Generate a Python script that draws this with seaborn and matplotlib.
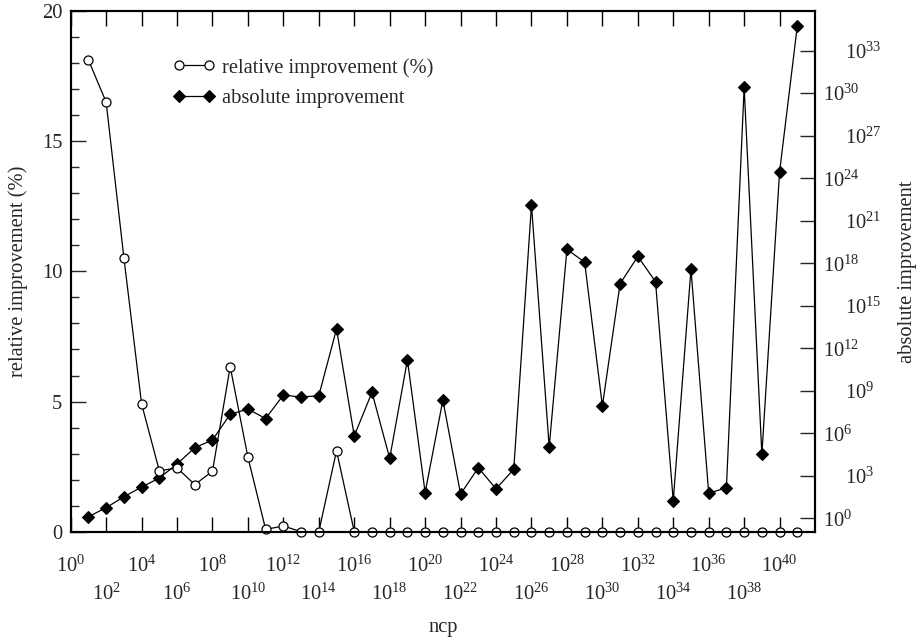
import numpy as np
import pandas as pd
import matplotlib
matplotlib.use('Agg')
import matplotlib.pyplot as plt
import matplotlib.ticker as mticker
import seaborn as sns

# ncp values (one point per decade)
ncp = [1e1, 1e2, 1e3, 1e4, 1e5, 1e6, 1e7, 1e8, 1e9, 1e10,
       1e11, 1e12, 1e13, 1e14, 1e15, 1e16, 1e17, 1e18, 1e19, 1e20,
       1e21, 1e22, 1e23, 1e24, 1e25, 1e26, 1e27, 1e28, 1e29, 1e30,
       1e31, 1e32, 1e33, 1e34, 1e35, 1e36, 1e37, 1e38, 1e39, 1e40, 1e41]

# relative improvement in %, left axis
rel_impr = [18.12, 16.50, 10.53, 4.91, 2.34, 2.45, 1.81, 2.32, 6.34, 2.86,
            0.09, 0.22, 0.0, 0.0, 3.11, 0.0, 0.0, 0.0, 0.0, 0.0,
            0.0, 0.0, 0.0, 0.0, 0.0, 0.0, 0.0, 0.0, 0.0, 0.0,
            0.0, 0.0, 0.0, 0.0, 0.0, 0.0, 0.0, 0.0, 0.0, 0.0, 0.0]

# absolute improvement, right (log) axis
abs_impr = [1.3, 5.6, 33, 160, 690, 6.8e3, 9.5e4, 3.4e5, 2.2e7, 5.1e7,
            1.1e7, 5.0e8, 3.6e8, 4.5e8, 2.3e13, 6.5e5, 7.8e8, 1.7e4, 1.5e11, 65,
            2.2e8, 51, 3.7e3, 120, 2.9e3, 1.3e22, 1.1e5, 9.5e18, 1.2e18, 8.5e7,
            3.6e16, 3.0e18, 5.0e16, 17, 3.9e17, 58, 145, 2.6e30, 3.3e4, 2.8e24, 5.5e34]

df = pd.DataFrame({'ncp': ncp, 'rel': rel_impr, 'abs': abs_impr})

sns.set_style('white')
plt.rcParams['font.family'] = ['Liberation Serif', 'DejaVu Serif']
plt.rcParams['mathtext.fontset'] = 'custom'
plt.rcParams['mathtext.rm'] = 'Liberation Serif'
plt.rcParams['mathtext.it'] = 'Liberation Serif:italic'
plt.rcParams['mathtext.bf'] = 'Liberation Serif:bold'

FS = 14.8

fig = plt.figure(figsize=(9.17, 6.4), dpi=100)
ax = fig.add_axes([0.0771, 0.1692, 0.8117, 0.8136])
ax.set_xscale('log')
ax2 = ax.twinx()

sns.lineplot(data=df, x='ncp', y='abs', ax=ax2, color='black', linewidth=0.9,
             marker='D', markersize=5.8, markerfacecolor='black',
             markeredgecolor='black', markeredgewidth=0.8,
             label='absolute improvement', clip_on=False)
sns.lineplot(data=df, x='ncp', y='rel', ax=ax, color='black', linewidth=0.9,
             marker='o', markersize=6.5, markerfacecolor='white',
             markeredgecolor='black', markeredgewidth=0.9,
             label='relative improvement (%)', clip_on=False)

ax.set_zorder(ax2.get_zorder() + 1)
ax.patch.set_visible(False)
ax2.patch.set_visible(False)

ax.set_xlim(1e0, 1e42)
ax.set_ylim(0, 20)
ax2.set_yscale('log')
ax2.set_ylim(10 ** -0.946, 10 ** 35.8)

def pow_fmt(v, pos):
    return r'$\mathregular{10^{%d}}$' % int(round(np.log10(v)))

# x ticks: labels alternate between two rows
ax.xaxis.set_major_locator(mticker.FixedLocator([10.0 ** k for k in range(0, 41, 4)]))
ax.xaxis.set_minor_locator(mticker.FixedLocator([10.0 ** k for k in range(2, 40, 4)]))
ax.xaxis.set_major_formatter(mticker.FuncFormatter(pow_fmt))
ax.xaxis.set_minor_formatter(mticker.FuncFormatter(pow_fmt))
ax.tick_params(axis='x', which='both', direction='in', top=True, bottom=True,
               length=10.5, width=1, labelsize=FS, color='black')
ax.tick_params(axis='x', which='major', pad=17)
ax.tick_params(axis='x', which='minor', pad=37)

ax.yaxis.set_major_locator(mticker.MultipleLocator(5))
ax.yaxis.set_minor_locator(mticker.MultipleLocator(1))
ax.tick_params(axis='y', which='major', direction='in', length=11, width=1,
               pad=6, labelsize=FS, left=True, right=False)
ax.tick_params(axis='y', which='minor', direction='in', length=5.5, width=1,
               left=True, right=False)

# right axis: labels alternate between two columns
ax2.yaxis.set_major_locator(mticker.FixedLocator([10.0 ** k for k in range(0, 31, 6)]))
ax2.yaxis.set_minor_locator(mticker.FixedLocator([10.0 ** k for k in range(3, 34, 6)]))
ax2.yaxis.set_major_formatter(mticker.FuncFormatter(pow_fmt))
ax2.yaxis.set_minor_formatter(mticker.FuncFormatter(pow_fmt))
ax2.tick_params(axis='y', which='both', direction='in', length=10.5, width=1,
                labelsize=FS, left=False, right=True)
ax2.tick_params(axis='y', which='major', pad=6)
ax2.tick_params(axis='y', which='minor', pad=21.5)

for a in (ax, ax2):
    for s in a.spines.values():
        s.set_color('black')
        s.set_linewidth(1.5)

ax.set_xlabel('ncp', fontsize=FS, labelpad=10)
ax.set_ylabel('relative improvement (%)', fontsize=FS, labelpad=10)
ax2.set_ylabel('absolute improvement', fontsize=FS, labelpad=12)

h1, l1 = ax.get_legend_handles_labels()
h2, l2 = ax2.get_legend_handles_labels()
if ax2.get_legend() is not None:
    ax2.get_legend().remove()
ax.legend(h1 + h2, l1 + l2, loc='upper left', bbox_to_anchor=(0.1376, 0.91),
          frameon=False, fontsize=FS, numpoints=2, handlelength=2.06,
          handletextpad=0.3, labelspacing=0.55, borderpad=0, borderaxespad=0)

fig.savefig('out.png', dpi=100)
